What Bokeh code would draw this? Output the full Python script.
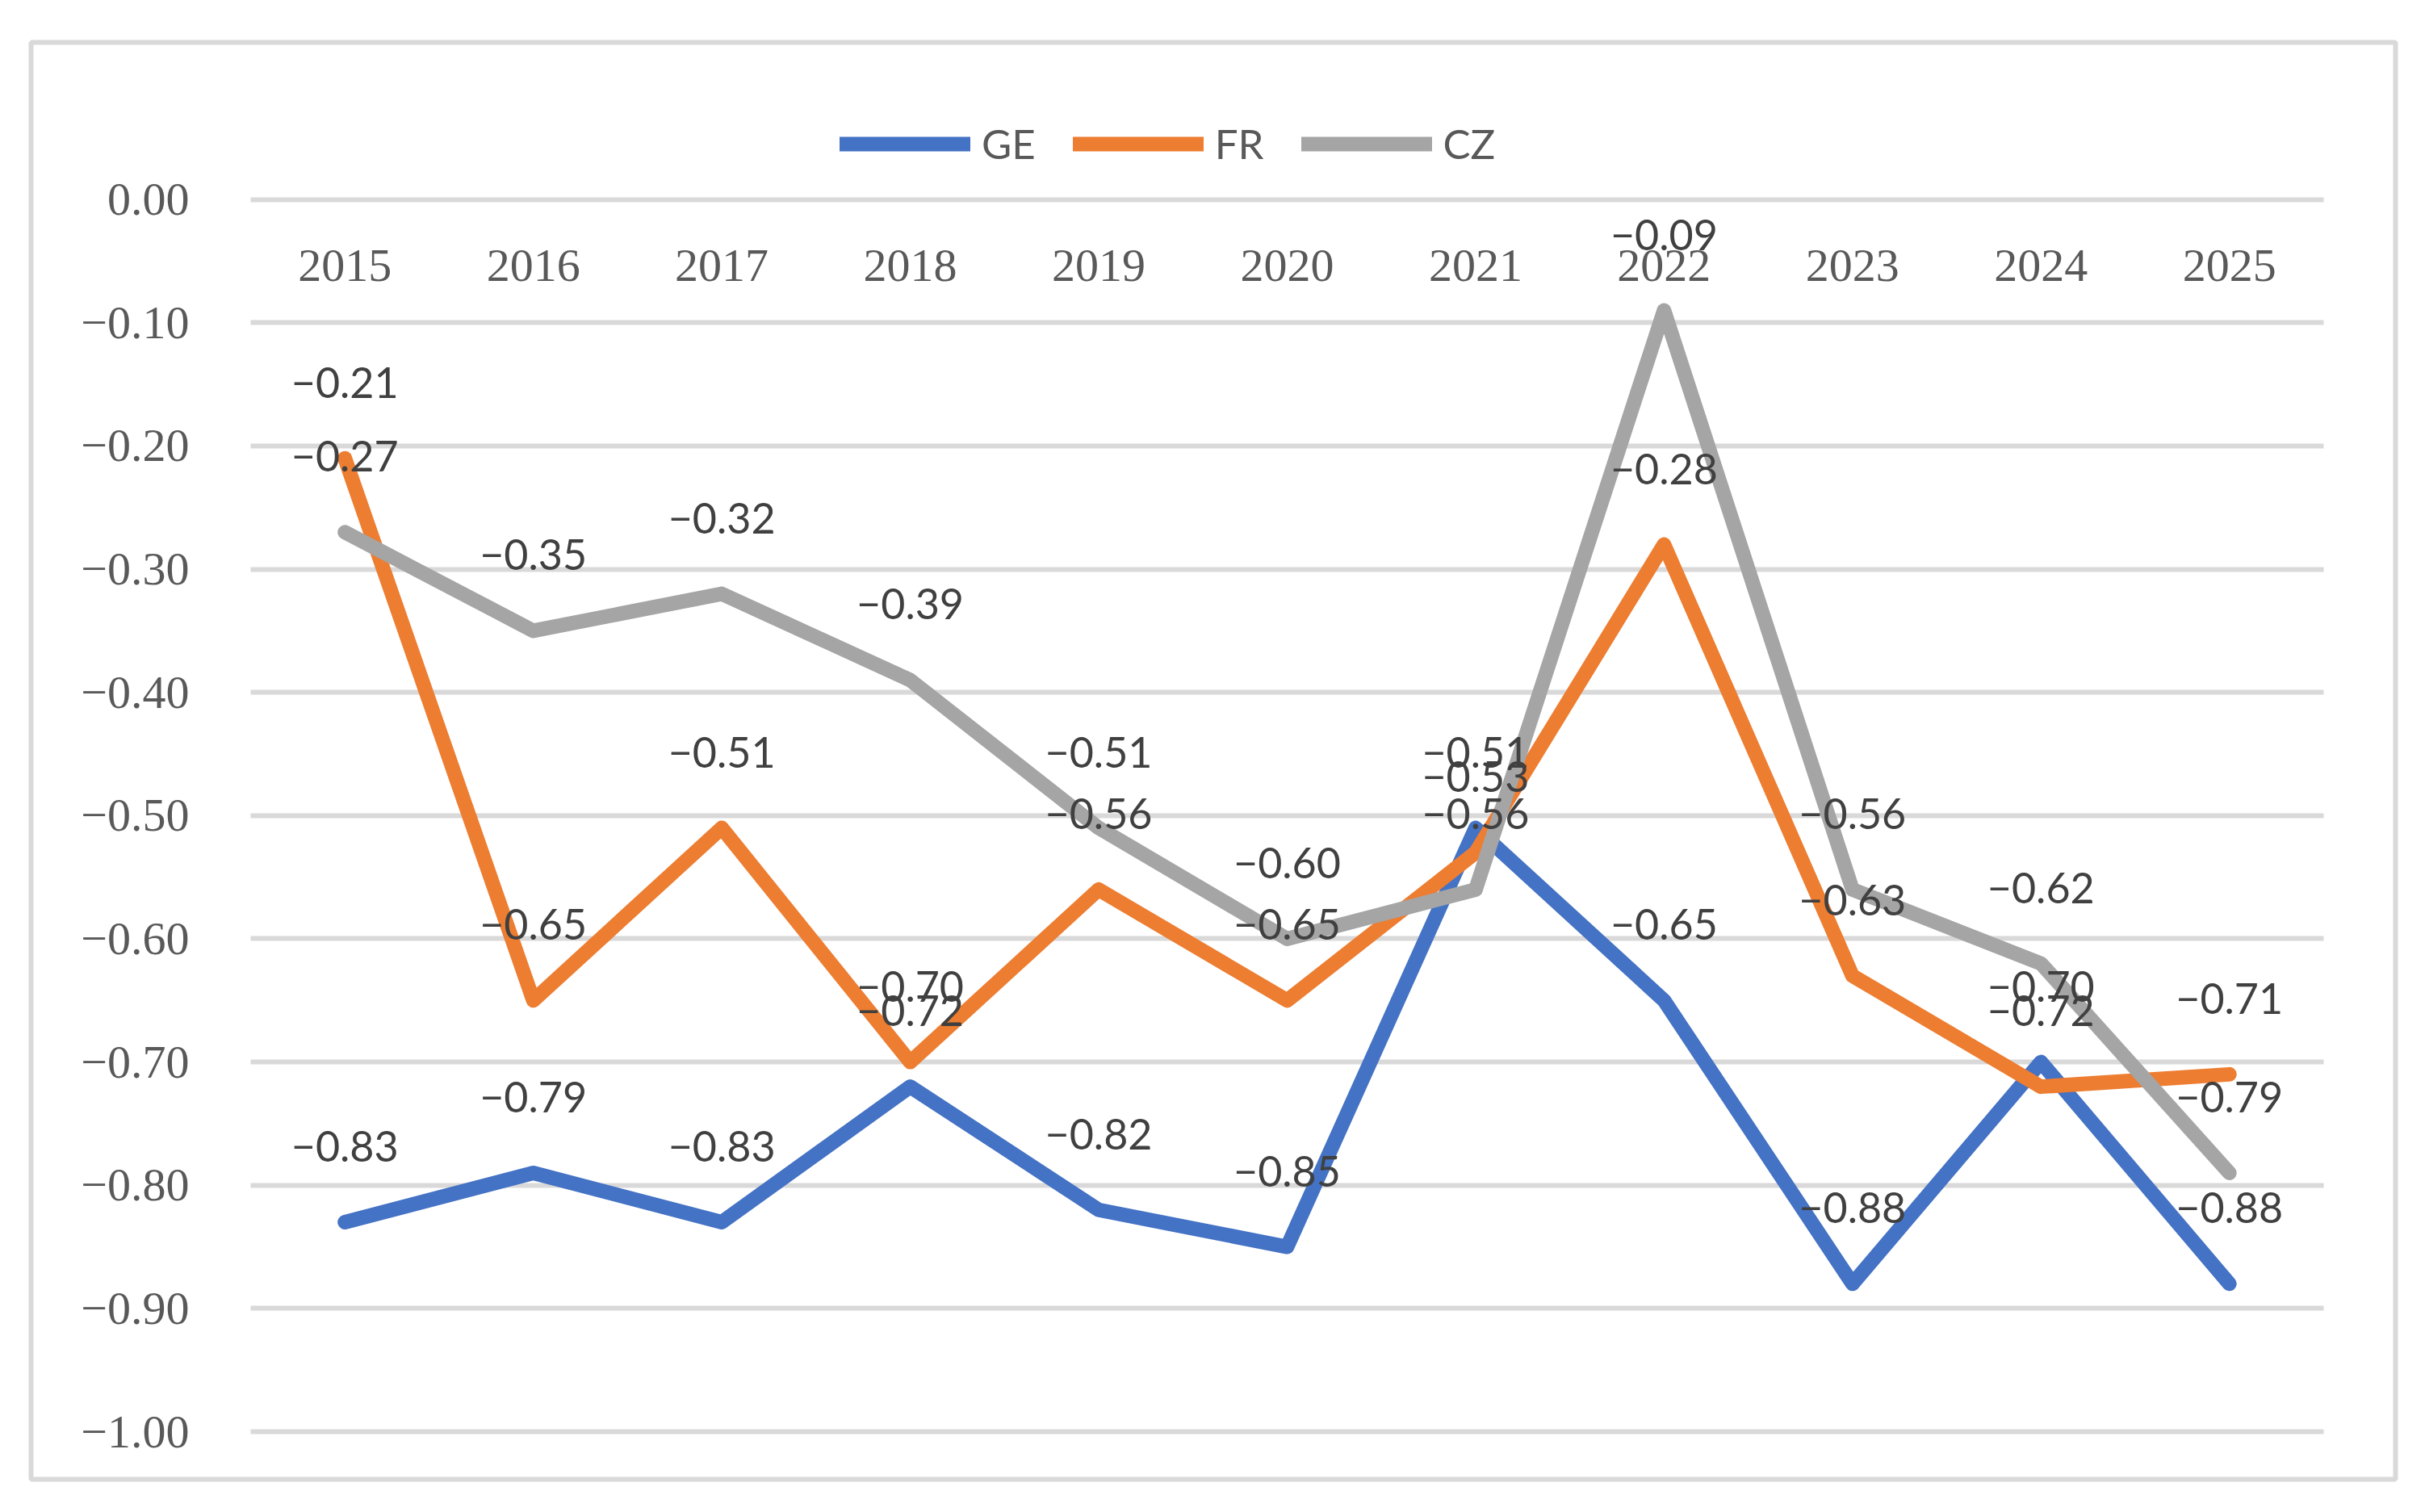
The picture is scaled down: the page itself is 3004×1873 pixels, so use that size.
from bokeh.plotting import figure
from bokeh.models import (FixedTicker, CustomJSTickFormatter, Legend, LegendItem,
                          ColumnDataSource, Range1d, Grid)
from bokeh.core.properties import value
from bokeh.embed import file_html
from bokeh.resources import INLINE

# ---------------- data ----------------
years = ["2015", "2016", "2017", "2018", "2019", "2020", "2021", "2022", "2023", "2024", "2025"]
ge = [-0.83, -0.79, -0.83, -0.72, -0.82, -0.85, -0.51, -0.65, -0.88, -0.70, -0.88]
fr = [-0.21, -0.65, -0.51, -0.70, -0.56, -0.65, -0.53, -0.28, -0.63, -0.72, -0.71]
cz = [-0.27, -0.35, -0.32, -0.39, -0.51, -0.60, -0.56, -0.09, -0.56, -0.62, -0.79]
series_names = ["GE", "FR", "CZ"]
series_colors = ["#4472C4", "#ED7D31", "#A5A5A5"]
y_ticks = [0.0, -0.1, -0.2, -0.3, -0.4, -0.5, -0.6, -0.7, -0.8, -0.9, -1.0]

xs = list(range(len(years)))


def fmt(v):
    return ("\u2212" if v < 0 else "") + f"{abs(v):.2f}"


W, H = 2985, 1850
p = figure(width=W, height=H,
           x_range=Range1d(-1.665, 10.8816), y_range=Range1d(-1.03865, 0.12756),
           output_backend="svg", toolbar_location=None,
           min_border_left=38, min_border_right=W - 2967, min_border_top=52,
           min_border_bottom=H - 1832,
           background_fill_color="white", border_fill_color="white")

p.outline_line_color = "#D9D9D9"
p.outline_line_width = 6

# x axis (years) sitting on y = 0
p.xaxis.ticker = FixedTicker(ticks=xs)
p.xaxis.formatter = CustomJSTickFormatter(args=dict(years=years),
                                          code="return years[Math.round(tick)] || '';")
p.xaxis.fixed_location = 0
p.xaxis.axis_line_color = None
p.xaxis.major_tick_line_color = None
p.xaxis.minor_tick_line_color = None
p.xaxis.major_label_text_font = "Liberation Serif"
p.xaxis.major_label_text_font_size = "58px"
p.xaxis.major_label_text_color = "#595959"
p.xaxis.major_label_standoff = 57

# y axis
p.yaxis.ticker = FixedTicker(ticks=y_ticks)
p.yaxis.formatter = CustomJSTickFormatter(
    code="var s = Math.abs(tick).toFixed(2); return (tick < -1e-9 ? '\u2212' : '') + s;")
p.yaxis.fixed_location = -0.5
p.yaxis.axis_line_color = None
p.yaxis.major_tick_line_color = None
p.yaxis.minor_tick_line_color = None
p.yaxis.major_label_text_font = "Liberation Serif"
p.yaxis.major_label_text_font_size = "58px"
p.yaxis.major_label_text_color = "#595959"
p.yaxis.major_label_standoff = 70

# grid
p.xgrid.visible = False
p.ygrid.ticker = FixedTicker(ticks=y_ticks)
p.ygrid.grid_line_color = "#D9D9D9"
p.ygrid.grid_line_width = 6
if "cross_bounds" in Grid.properties():
    p.ygrid.cross_bounds = (-0.5, len(years) - 0.5)
else:
    p.ygrid.visible = False
    p.segment(x0=[-0.5] * len(y_ticks), x1=[len(years) - 0.5] * len(y_ticks),
              y0=y_ticks, y1=y_ticks, line_color="#D9D9D9", line_width=6)

# lines
renderers = []
all_series = [ge, fr, cz]
for name, vals, col in zip(series_names, all_series, series_colors):
    src = ColumnDataSource(dict(x=xs, y=vals))
    r = p.line("x", "y", source=src, line_color=col, line_width=18,
               line_cap="round", line_join="round")
    renderers.append(r)

# data labels
for vals in all_series:
    src = ColumnDataSource(dict(x=xs, y=vals, t=[fmt(v) for v in vals]))
    p.text("x", "y", text="t", source=src, text_font=value("Lato"),
           text_font_size="52px", text_color="#404040",
           text_align="center", text_baseline="alphabetic", y_offset=-94)

legend = Legend(items=[LegendItem(label=n, renderers=[r]) for n, r in zip(series_names, renderers)],
                orientation="horizontal", location=(1002, 1624),
                glyph_width=162, glyph_height=20, label_height=20,
                label_standoff=14, spacing=46, padding=0, margin=0,
                border_line_alpha=0, background_fill_alpha=0,
                label_text_font="Lato", label_text_font_size="51px",
                label_text_color="#595959")
p.add_layout(legend)

open("out.html", "w").write(file_html(p, INLINE))
